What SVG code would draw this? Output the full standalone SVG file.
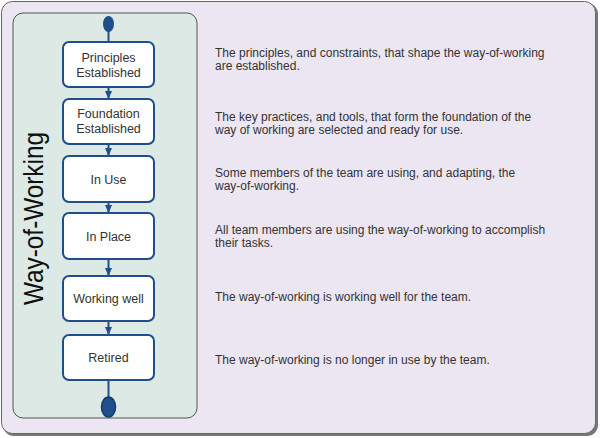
<svg xmlns="http://www.w3.org/2000/svg" width="600" height="438" viewBox="0 0 600 438">
<defs>
<style>
.node rect{fill:#ffffff;stroke:#1f4e8a;stroke-width:2}
.node text{font-family:"Liberation Sans",Arial,sans-serif;font-size:12.5px;fill:#333;text-anchor:middle}
.desc text{font-family:"Liberation Sans",Arial,sans-serif;font-size:12px;fill:#333}
.conn line{stroke:#1f4e8a;stroke-width:2}
</style>
<marker id="ah" markerWidth="8" markerHeight="8" refX="4" refY="7" orient="auto-start-reverse" markerUnits="userSpaceOnUse" viewBox="0 0 8 8">
<path d="M0,1 L8,1 L4,7 Z" fill="#1f4e8a" transform="rotate(-90 4 4)"/>
</marker>
<marker id="arr" markerWidth="8" markerHeight="7" refX="7" refY="3.5" orient="auto" markerUnits="userSpaceOnUse">
<path d="M0,0 L8,3.5 L0,7 Z" fill="#1f4e8a"/>
</marker>
</defs>
<rect x="3" y="3" width="595" height="433" rx="11" fill="#777"/>
<rect x="1.5" y="1.5" width="594" height="432" rx="11" fill="#ebe6f1" stroke="#666" stroke-width="1"/>
<rect x="13" y="13" width="184" height="405" rx="10" fill="#dde9e5" stroke="#555" stroke-width="1"/>
<text transform="translate(43,218.5) rotate(-90)" font-family="'Liberation Sans',Arial,sans-serif" font-size="28" fill="#111" text-anchor="middle" textLength="173" lengthAdjust="spacingAndGlyphs">Way-of-Working</text>
<g class="conn" id="connectors">
<line x1="108.5" y1="30" x2="108.5" y2="42"/>
<line x1="108.5" y1="87" x2="108.5" y2="98" marker-end="url(#arr)"/>
<line x1="108.5" y1="144" x2="108.5" y2="155" marker-end="url(#arr)"/>
<line x1="108.5" y1="202" x2="108.5" y2="212" marker-end="url(#arr)"/>
<line x1="108.5" y1="259" x2="108.5" y2="275" marker-end="url(#arr)"/>
<line x1="108.5" y1="321" x2="108.5" y2="334" marker-end="url(#arr)"/>
<line x1="108.5" y1="380" x2="108.5" y2="398"/>
</g>
<g id="start"><ellipse cx="108.5" cy="24" rx="5.5" ry="8" fill="#1f4e8a"/></g>
<g id="end"><ellipse cx="108.5" cy="407" rx="7" ry="10" fill="#1f4e8a" stroke="#163a6a" stroke-width="1.5"/></g>
<g class="node" id="principles"><rect x="63" y="42" width="91" height="45" rx="6"/><text x="108.5" y="62">Principles</text><text x="108.5" y="77">Established</text></g>
<g class="node" id="foundation"><rect x="63" y="99" width="91" height="45" rx="6"/><text x="108.5" y="118">Foundation</text><text x="108.5" y="133">Established</text></g>
<g class="node" id="inuse"><rect x="63" y="156" width="91" height="46" rx="6"/><text x="108.5" y="183.5">In Use</text></g>
<g class="node" id="inplace"><rect x="63" y="213" width="91" height="46" rx="6"/><text x="108.5" y="241">In Place</text></g>
<g class="node" id="workingwell"><rect x="63" y="276" width="91" height="45" rx="6"/><text x="108.5" y="303">Working well</text></g>
<g class="node" id="retired"><rect x="63" y="335" width="91" height="45" rx="6"/><text x="108.5" y="362">Retired</text></g>
<g class="desc" id="descriptions">
<text x="215" y="57">The principles, and constraints, that shape the way-of-working</text>
<text x="215" y="70">are established.</text>
<text x="215" y="121">The key practices, and tools, that form the foundation of the</text>
<text x="215" y="134">way of working are selected and ready for use.</text>
<text x="215" y="177">Some members of the team are using, and adapting, the</text>
<text x="215" y="190">way-of-working.</text>
<text x="215" y="234">All team members are using the way-of-working to accomplish</text>
<text x="215" y="247">their tasks.</text>
<text x="215" y="301">The way-of-working is working well for the team.</text>
<text x="215" y="364">The way-of-working is no longer in use by the team.</text>
</g>
</svg>
